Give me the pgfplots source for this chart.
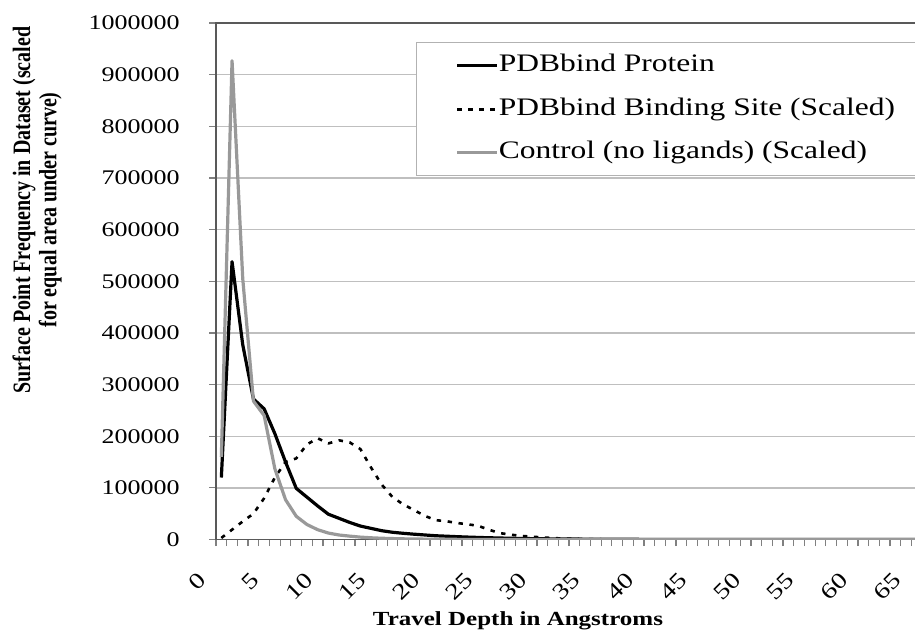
\documentclass[border=0pt]{standalone}
\usepackage{fontspec}
\setmainfont{Liberation Serif}[FakeStretch=1.25]
\newfontfamily\ylabfont{Liberation Serif}
\usepackage{graphicx}
\usepackage{pgfplots}
\pgfplotsset{compat=1.18}
\begin{document}
\begin{tikzpicture}
\useasboundingbox (-108pt,-51.75pt) rectangle (349.5pt,269.75pt);
\begin{axis}[
  at={(0,0)}, anchor=south west,
  scale only axis, width=353.1pt, height=258.25pt,
  xmin=-0.5, xmax=65.5, ymin=0, ymax=1000000,
  axis line style={draw=black!65, line width=0.9pt},
  tick pos=left, tick align=outside,
  major tick length=0pt, minor tick length=3.3pt,
  tick style={draw=black!50, line width=0.6pt},
  xtick={0,5,...,65},
  xticklabels={0,5,10,15,20,25,30,35,40,45,50,55,60,65},
  minor xtick={-0.5,0.5,...,65.5},
  xticklabel style={font=\fontsize{11.2}{13}\selectfont, inner sep=0pt, xshift=-9.5pt, yshift=-18.5pt, rotate=45, anchor=east},
  ytick={0,100000,...,1000000},
  minor ytick={0,100000,...,1000000},
  scaled y ticks=false,
  yticklabels={0,100000,200000,300000,400000,500000,600000,700000,800000,900000,1000000},
  yticklabel style={font=\fontsize{10.4}{12}\selectfont, inner sep=0pt, xshift=-18pt},
  /pgf/number format/assume math mode=true,
  ymajorgrids, grid style={draw=black!25, line width=0.7pt},
  every axis x label/.style={at={(axis description cs:0.4276,0)}, anchor=center, yshift=-40.75pt, font=\bfseries\fontsize{10}{12}\selectfont},
  xlabel={Travel Depth in Angstroms},
  every axis y label/.style={at={(axis description cs:0,0.638)}, xshift=-89pt, rotate=90, anchor=center},
  ylabel={\scalebox{1}[1.25]{\ylabfont\bfseries\fontsize{10}{10.5}\selectfont\begin{tabular}{@{}c@{}}Surface Point Frequency in Dataset (scaled\\for equal area under curve)\end{tabular}}},
  legend image code/.code={\draw[#1] (0pt,0pt) -- (20pt,0pt);},
  legend cell align=left,
  legend style={at={(axis description cs:0.2832,0.9632)}, anchor=north west, draw=black!30, line width=0.6pt, fill=white, inner xsep=19.5pt, inner ysep=6pt, row sep=10.5pt, font=\fontsize{12.6}{15}\selectfont, nodes={inner sep=0pt, text height=8.6pt, text depth=2.6pt}, /tikz/every even column/.append style={column sep=7pt}},
  every axis plot/.append style={line join=round, mark=none},
]
\addplot[draw=black, line width=1.6pt] coordinates {
(0,120000)(1,538000)(2,377000)(3,272000)(4,253000)(5,205000)(6,150000)(7,99000)(8,82000)(9,65000)
(10,49000)(11,41000)(12,33000)(13,26000)(14,21500)(15,17000)(16,14000)(17,12000)(18,10300)(19,8800)
(20,7300)(21,6400)(22,5500)(23,4700)(24,4000)(25,3400)(26,2900)(27,2400)(28,2000)(29,1700)
(30,1400)(31,1200)(32,1000)(33,850)(34,700)(35,600)(36,500)(37,420)(38,350)(39,300)
(40,250)(41,210)(42,180)(43,150)(44,130)(45,110)(46,90)(47,80)(48,70)(49,60)
(50,50)(51,40)(52,35)(53,30)(54,25)(55,20)(56,18)(57,15)(58,12)(59,10)
(60,8)(61,6)(62,5)(63,4)(64,3)(65,2)};
\addlegendentry{PDBbind Protein}
\addplot[draw=black, line width=1.3pt, dash pattern=on 2.2pt off 3.3pt] coordinates {
(0,3000)(1,19000)(2,35000)(3,50000)(4,80000)(5,120000)(6,150000)(7,157000)(8,184000)(9,196000)
(10,186000)(11,192000)(12,188000)(13,175000)(14,139000)(15,106000)(16,82000)(17,68000)(18,57000)(19,46000)
(20,37500)(21,35500)(22,32000)(23,29500)(24,26500)(25,19000)(26,12500)(27,9500)(28,7000)(29,5500)
(30,4000)(31,2800)(32,1800)(33,1200)(34,800)(35,500)(36,300)(37,200)(38,100)(39,60)
(40,40)(41,30)(42,20)(43,10)(44,5)(45,0)(46,0)(47,0)(48,0)(49,0)
(50,0)(51,0)(52,0)(53,0)(54,0)(55,0)(56,0)(57,0)(58,0)(59,0)
(60,0)(61,0)(62,0)(63,0)(64,0)(65,0)};
\addlegendentry{PDBbind Binding Site (Scaled)}
\addplot[draw=black!40, line width=1.6pt] coordinates {
(0,160000)(1,927000)(2,505000)(3,268000)(4,240000)(5,137000)(6,77000)(7,45000)(8,29000)(9,19000)
(10,12500)(11,8700)(12,6500)(13,4600)(14,3300)(15,2400)(16,1800)(17,1300)(18,1000)(19,750)
(20,550)(21,400)(22,300)(23,220)(24,160)(25,120)(26,90)(27,70)(28,50)(29,40)
(30,30)(31,20)(32,15)(33,10)(34,8)(35,6)(36,5)(37,4)(38,3)(39,2)
(40,1)(41,1)(42,0)(43,0)(44,0)(45,0)(46,0)(47,0)(48,0)(49,0)
(50,0)(51,0)(52,0)(53,0)(54,0)(55,0)(56,0)(57,0)(58,0)(59,0)
(60,0)(61,0)(62,0)(63,0)(64,0)(65,0)};
\addlegendentry{Control (no ligands) (Scaled)}
\end{axis}
\end{tikzpicture}
\end{document}
